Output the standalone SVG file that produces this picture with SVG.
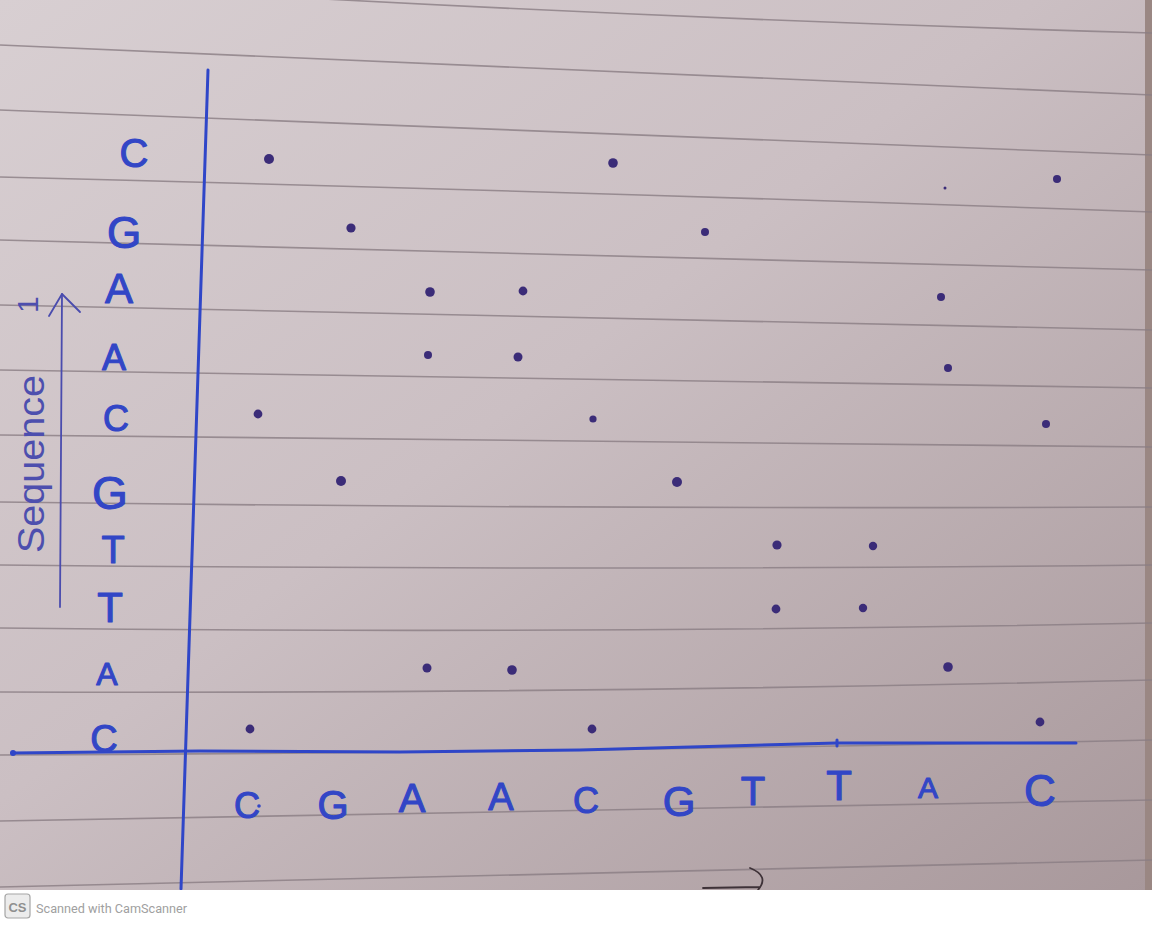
<svg xmlns="http://www.w3.org/2000/svg" width="1152" height="925" viewBox="0 0 1152 925">
  <defs>
    <linearGradient id="paper" x1="0" y1="0" x2="1" y2="1">
      <stop offset="0" stop-color="#d8cfd2"/>
      <stop offset="0.45" stop-color="#cbbfc3"/>
      <stop offset="1" stop-color="#a8989b"/>
    </linearGradient>
    <style>
      .rule { fill: none; stroke: #8a7d83; stroke-width: 1.6; opacity: 0.8; }
      .ink { fill: none; stroke: #2f46c8; stroke-width: 3; stroke-linecap: round; stroke-linejoin: round; }
      .thin { fill: none; stroke: #4a4cae; stroke-width: 1.8; stroke-linecap: round; stroke-linejoin: round; }
      .lbl { font-family: "Liberation Sans", Arial, sans-serif; fill: #3246c6; stroke: #3246c6; stroke-width: 1.1; stroke-linejoin: round; text-anchor: middle; }
      .seq { font-family: "Liberation Sans", Arial, sans-serif; fill: #4d4fae; }
      .dot { fill: #3b2c78; }
    </style>
  </defs>

  <!-- paper -->
  <rect x="0" y="0" width="1152" height="890" fill="url(#paper)"/>
  <rect x="1145" y="0" width="7" height="890" fill="#9a8783"/>

  <!-- ruled lines -->
  <g id="ruled-lines">
    <path class="rule" d="M0,-20 Q576,16.5 1152,33"/>
    <path class="rule" d="M0,45 Q576,70 1152,95"/>
    <path class="rule" d="M0,110 Q576,131.5 1152,155"/>
    <path class="rule" d="M0,177 Q576,191.5 1152,212"/>
    <path class="rule" d="M0,240 Q576,255 1152,270"/>
    <path class="rule" d="M0,305 Q576,318.5 1152,330"/>
    <path class="rule" d="M0,370 Q576,381 1152,388"/>
    <path class="rule" d="M0,435 Q576,443 1152,447"/>
    <path class="rule" d="M0,502 Q576,509.5 1152,507"/>
    <path class="rule" d="M0,565 Q576,571 1152,565"/>
    <path class="rule" d="M0,628 Q576,634.5 1152,623"/>
    <path class="rule" d="M0,692 Q576,694 1152,680"/>
    <path class="rule" d="M0,755 Q576,752.5 1152,740"/>
    <path class="rule" d="M0,821 Q576,813 1152,800"/>
    <path class="rule" d="M0,887 Q576,874.5 1152,860"/>
  </g>

  <!-- stray marks near bottom -->
  <path d="M703,888 L760,887 M750,868 Q770,876 758,890" fill="none" stroke="#3e3238" stroke-width="1.8" stroke-linecap="round"/>

  <!-- axes -->
  <g id="axes">
    <path id="y-axis" class="ink" d="M208,70 L181,889"/>
    <path id="x-axis" class="ink" d="M12,753 L200,751 L400,752 L580,750 L837,743 L1076,743"/>
    <circle cx="13" cy="753" r="3" fill="#2f46c8"/>
    <path class="ink" d="M837,740 L837,746" stroke-width="2"/>
  </g>

  <!-- sequence 1 label and arrow -->
  <g id="sequence-label">
    <path class="thin" d="M60,607 L62,294"/>
    <path class="thin" d="M49,316 L62,294 L80,312"/>
    <text class="seq" font-size="36" transform="translate(44,553) rotate(-90)" textLength="178" lengthAdjust="spacingAndGlyphs">Sequence</text>
    <text class="seq" font-size="30" transform="translate(38,313) rotate(-90)">1</text>
  </g>

  <!-- row labels (sequence 1) -->
  <g id="row-labels">
    <text class="lbl" x="134" y="167" font-size="40">C</text>
    <text class="lbl" x="124" y="248" font-size="44">G</text>
    <text class="lbl" x="119" y="303" font-size="42">A</text>
    <text class="lbl" x="114" y="370" font-size="36">A</text>
    <text class="lbl" x="116" y="431" font-size="36">C</text>
    <text class="lbl" x="110" y="509" font-size="46">G</text>
    <text class="lbl" x="113" y="563" font-size="38">T</text>
    <text class="lbl" x="110" y="622" font-size="42">T</text>
    <text class="lbl" x="107" y="685" font-size="32">A</text>
    <text class="lbl" x="104" y="752" font-size="38">C</text>
  </g>

  <!-- column labels (sequence 2) -->
  <g id="column-labels">
    <text class="lbl" x="247" y="818" font-size="36">C</text>
    <circle cx="259" cy="806" r="1.8" fill="#3246c6"/>
    <text class="lbl" x="333" y="819" font-size="40">G</text>
    <text class="lbl" x="412" y="812" font-size="40">A</text>
    <text class="lbl" x="501" y="810" font-size="38">A</text>
    <text class="lbl" x="586" y="813" font-size="36">C</text>
    <text class="lbl" x="679" y="816" font-size="42">G</text>
    <text class="lbl" x="753" y="805" font-size="40">T</text>
    <text class="lbl" x="839" y="800" font-size="42">T</text>
    <text class="lbl" x="928" y="798" font-size="30">A</text>
    <text class="lbl" x="1040" y="806" font-size="44">C</text>
  </g>

  <!-- dots -->
  <g id="dots">
    <circle class="dot" cx="269" cy="159" r="5"/>
    <circle class="dot" cx="613" cy="163" r="4.8"/>
    <circle class="dot" cx="1057" cy="179" r="4"/>
    <circle class="dot" cx="945" cy="188" r="1.5"/>

    <circle class="dot" cx="351" cy="228" r="4.6"/>
    <circle class="dot" cx="705" cy="232" r="4"/>

    <circle class="dot" cx="430" cy="292" r="4.8"/>
    <circle class="dot" cx="523" cy="291" r="4.4"/>
    <circle class="dot" cx="941" cy="297" r="4"/>

    <circle class="dot" cx="428" cy="355" r="4"/>
    <circle class="dot" cx="518" cy="357" r="4.5"/>
    <circle class="dot" cx="948" cy="368" r="4"/>

    <circle class="dot" cx="258" cy="414" r="4.4"/>
    <circle class="dot" cx="593" cy="419" r="3.6"/>
    <circle class="dot" cx="1046" cy="424" r="4"/>

    <circle class="dot" cx="341" cy="481" r="5"/>
    <circle class="dot" cx="677" cy="482" r="5"/>

    <circle class="dot" cx="777" cy="545" r="4.6"/>
    <circle class="dot" cx="873" cy="546" r="4.2"/>

    <circle class="dot" cx="776" cy="609" r="4.4"/>
    <circle class="dot" cx="863" cy="608" r="4.2"/>

    <circle class="dot" cx="427" cy="668" r="4.5"/>
    <circle class="dot" cx="512" cy="670" r="4.8"/>
    <circle class="dot" cx="948" cy="667" r="4.8"/>

    <circle class="dot" cx="250" cy="729" r="4.4"/>
    <circle class="dot" cx="592" cy="729" r="4.4"/>
    <circle class="dot" cx="1040" cy="722" r="4.4"/>
  </g>

  <!-- scanner footer -->
  <g id="footer">
    <rect x="0" y="890" width="1152" height="35" fill="#ffffff"/>
    <rect x="5" y="894" width="25" height="24" rx="3" fill="#ececec" stroke="#a6a6a6" stroke-width="1.2"/>
    <text x="17.5" y="912" font-family="Liberation Sans, Arial, sans-serif" font-size="13" font-weight="bold" fill="#8f8f8f" text-anchor="middle">CS</text>
    <text x="36" y="913" font-family="Roboto, Liberation Sans, Arial, sans-serif" font-size="12" fill="#a0a0a0" textLength="151" lengthAdjust="spacingAndGlyphs">Scanned with CamScanner</text>
  </g>
</svg>
